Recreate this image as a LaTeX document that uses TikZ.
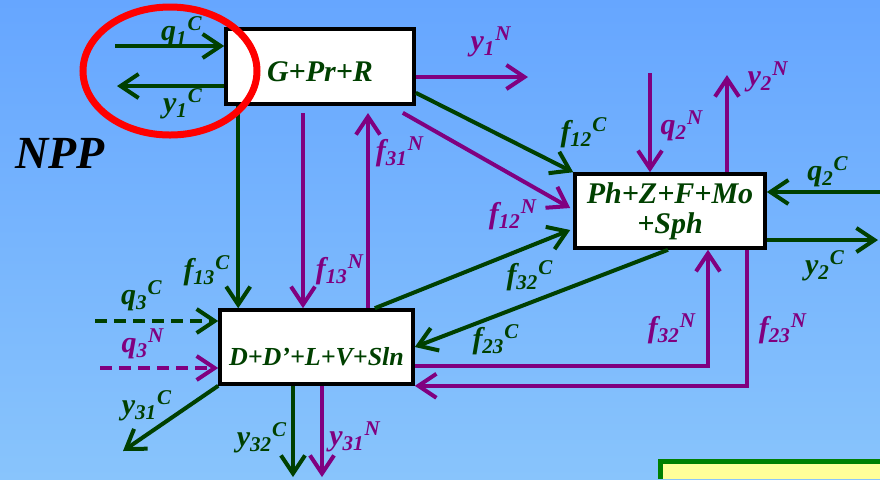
\documentclass[tikz,border=0pt]{standalone}
\usepackage{fontspec}
\setmainfont{Liberation Serif}
\usetikzlibrary{arrows.meta, calc, positioning}
\definecolor{flowgreen}{RGB}{0,64,0}
\definecolor{flowpurple}{RGB}{128,0,128}
\definecolor{skytop}{RGB}{102,166,255}
\definecolor{skybottom}{RGB}{136,196,252}
\definecolor{notegreen}{RGB}{0,128,0}
\definecolor{noteyellow}{RGB}{255,255,153}
\newcommand{\flow}[3]{#1\textsubscript{#2}\textsuperscript{#3}}

\begin{document}
\begin{tikzpicture}[x=0.5pt, y=-0.5pt]
    \tikzset{
        pool/.style={rectangle, draw=black, line width=1.8pt, fill=white, text=flowgreen, inner xsep=2pt,
                     font=\fontsize{15}{15}\selectfont\bfseries\itshape, align=center},
        carbon/.style={draw=flowgreen, line width=2pt, -{Straight Barb[length=9pt,width=12pt]}},
        nitro/.style={draw=flowpurple, line width=2pt, -{Straight Barb[length=9pt,width=12pt]}},
        clabel/.style={text=flowgreen, inner sep=0pt, font=\fontsize{15}{16}\selectfont\bfseries\itshape},
        nlabel/.style={text=flowpurple, inner sep=0pt, font=\fontsize{15}{16}\selectfont\bfseries\itshape}
    }
    \useasboundingbox (0,0) rectangle (880,479);
    \shade[top color=skytop, bottom color=skybottom] (0,0) rectangle (880,479);
    \fill[noteyellow] (658,459) rectangle (880,479);
    \draw[notegreen, line width=2.5pt] (660.5,479) -- (660.5,461.5) -- (880,461.5);

    \node[pool, minimum width=94pt, minimum height=37.5pt, text height=17.5pt, text depth=3pt] (gpr) at (320,66.5) {G+Pr+R};
    \node[pool, minimum width=95pt, minimum height=37pt] (phz) at (670,211) {Ph+Z+F+Mo\\+Sph};
    \node[pool, minimum width=96.5pt, minimum height=37pt, text height=21pt, text depth=3pt,
          font=\fontsize{13}{15}\selectfont\bfseries\itshape] (dls) at (316.5,347) {D+D’+L+V+Sln};
    \node[font=\fontsize{23}{26}\selectfont\bfseries\itshape] (npp) at (60,153) {NPP};

    \coordinate (q1c) at (115,46);
    \coordinate (y1c) at (117,86);
    \coordinate (y1n) at (528,77);
    \coordinate (f13n) at (303,113);
    \coordinate (f31n) at (368,113);
    \coordinate (q2n) at (650,73);
    \coordinate (y2n) at (727,75);
    \coordinate (q2c) at (880,192);
    \coordinate (y2c) at (878,240);
    \coordinate (q3c) at (95,321);
    \coordinate (q3n) at (100,368);
    \coordinate (y31c) at (123,451);
    \coordinate (y32c) at (293,477);
    \coordinate (y31n) at (322,477);

    \draw[carbon] (q1c) -- (q1c -| gpr.west);
    \draw[carbon] (y1c -| gpr.west) -- (y1c);
    \draw[nitro] (y1n -| gpr.east) -- (y1n);
    \draw[carbon] ([yshift=6.5pt]gpr.south east) -- (phz.north west);
    \draw[nitro] ([xshift=-6.5pt, yshift=-3.5pt]gpr.south east) -- ([xshift=-1.5pt, yshift=1.5pt]phz.west);
    \draw[carbon] ([xshift=7pt]gpr.south west) -- ([xshift=10pt]dls.north west);
    \draw[nitro] (f13n) -- (f13n |- dls.north);
    \draw[nitro] (f31n |- dls.north) -- (f31n);
    \draw[nitro] (q2n) -- (q2n |- phz.north);
    \draw[nitro] (y2n |- phz.north) -- (y2n);
    \draw[carbon] (q2c) -- (q2c -| phz.east);
    \draw[carbon] (y2c -| phz.east) -- (y2c);
    \draw[carbon] ([xshift=-20pt]dls.north east) -- ([xshift=-1.5pt, yshift=-9.5pt]phz.west);
    \draw[carbon] ([xshift=-1pt]phz.south) -- (dls.east);
    \draw[nitro] ([yshift=-9.5pt]dls.east) -| ([xshift=19pt]phz.south);
    \draw[nitro] ([xshift=38.5pt]phz.south) |- (dls.south east);
    \draw[carbon, dashed, dash pattern=on 6pt off 3.5pt] (q3c) -- (q3c -| dls.west);
    \draw[nitro, dashed, dash pattern=on 6pt off 3.5pt] (q3n) -- (q3n -| dls.west);
    \draw[carbon] (dls.south west) -- (y31c);
    \draw[carbon] (y32c |- dls.south) -- (y32c);
    \draw[nitro] (y31n |- dls.south) -- (y31n);

    \node[clabel] (lq1c) at (182,32) {\flow{q}{1}{C}};
    \node[clabel] (ly1c) at (183,104) {\flow{y}{1}{C}};
    \node[nlabel] (ly1n) at (491,42) {\flow{y}{1}{N}};
    \node[nlabel] (lf31n) at (400,152) {\flow{f}{31}{N}};
    \node[nlabel] (ly2n) at (768,77) {\flow{y}{2}{N}};
    \node[nlabel] (lq2n) at (682,126) {\flow{q}{2}{N}};
    \node[clabel] (lf12c) at (584,133) {\flow{f}{12}{C}};
    \node[clabel] (lq2c) at (828,172) {\flow{q}{2}{C}};
    \node[nlabel] (lf12n) at (513,215) {\flow{f}{12}{N}};
    \node[clabel] (lf13c) at (207,271) {\flow{f}{13}{C}};
    \node[nlabel] (lf13n) at (340,270) {\flow{f}{13}{N}};
    \node[clabel] (lq3c) at (142,296) {\flow{q}{3}{C}};
    \node[nlabel] (lq3n) at (143,344) {\flow{q}{3}{N}};
    \node[clabel] (ly31c) at (147,406) {\flow{y}{31}{C}};
    \node[clabel] (ly32c) at (262,438) {\flow{y}{32}{C}};
    \node[nlabel] (ly31n) at (355,437) {\flow{y}{31}{N}};
    \node[clabel] (lf32c) at (530,276) {\flow{f}{32}{C}};
    \node[clabel] (lf23c) at (496,340) {\flow{f}{23}{C}};
    \node[nlabel] (lf32n) at (672,329) {\flow{f}{32}{N}};
    \node[nlabel] (lf23n) at (783,329) {\flow{f}{23}{N}};
    \node[clabel] (ly2c) at (825,266) {\flow{y}{2}{C}};

    \draw[red, line width=3.5pt] (170,71) ellipse [x radius=87, y radius=64];
\end{tikzpicture}
\end{document}
